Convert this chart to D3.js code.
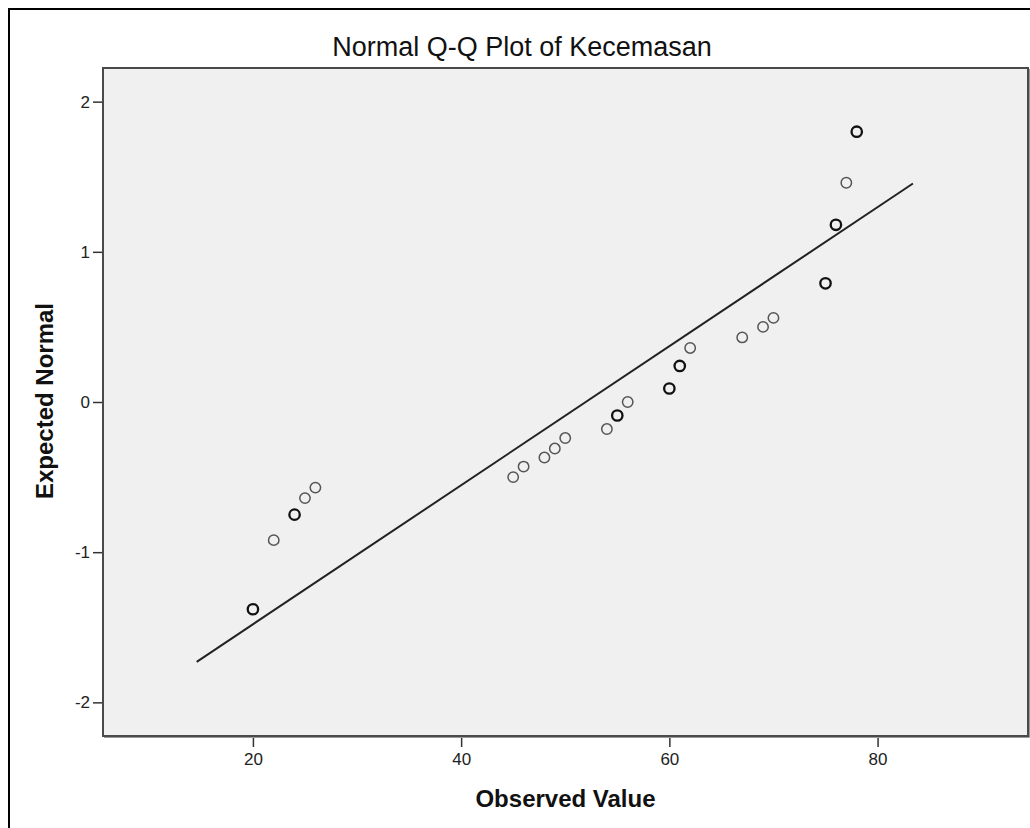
<!DOCTYPE html>
<html>
<head>
<meta charset="utf-8">
<style>
  body { margin: 0; background: #fff; }
  svg { display: block; font-family: Arial, "Liberation Sans", sans-serif; }
</style>
<title>Normal Q-Q Plot of Kecemasan</title>
</head>
<body>
<svg id="svgZone"></svg>
<script src="https://cdn.jsdelivr.net/npm/d3@7"></script>
<script>

// ============ Data ============
var observed = [20, 22, 24, 25, 26, 45, 46, 48, 49, 50, 54, 55, 56,
                60, 61, 62, 67, 69, 70, 75, 76, 77, 78];
var expected = [-1.38, -0.92, -0.75, -0.64, -0.57, -0.50, -0.43, -0.37, -0.31, -0.24, -0.18, -0.09, 0.00,
                0.09, 0.24, 0.36, 0.43, 0.50, 0.56, 0.79, 1.18, 1.46, 1.80];
// tied values show up as a heavier circle
var counts   = [2, 1, 2, 1, 1, 1, 1, 1, 1, 1, 1, 2, 1,
                2, 2, 1, 1, 1, 1, 2, 2, 1, 2];
// reference line end points (observed, expected)
var lineX = [14.6, 83.4];
var lineY = [-1.73, 1.455];

var xTicks = [20, 40, 60, 80];
var yTicks = [-2, -1, 0, 1, 2];

var TITLE = 'Normal Q-Q Plot of Kecemasan';
var X_LABEL = 'Observed Value';
var Y_LABEL = 'Expected Normal';

// ============ Layout ============
var W = 1030, H = 828;
var margin = {top: 68, right: 2, bottom: 92, left: 103},
    width = W - margin.left - margin.right,
    height = H - margin.top - margin.bottom;

var x = d3.scaleLinear().domain([5.6, 94.45]).range([0, width]);
var y = d3.scaleLinear().domain([-2.224, 2.224]).range([height, 0]);

// plain hyphen for negatives, like the original output
var tf = d => String(d);

var root = d3.select('#svgZone')
    .attr('width', W)
    .attr('height', H);

// outer frame (runs off the right and bottom of the picture)
root.append('rect')
    .attr('x', 9).attr('y', 9)
    .attr('width', W + 20).attr('height', H + 20)
    .attr('fill', '#fff')
    .attr('stroke', '#000')
    .attr('stroke-width', 2);

// title
root.append('text')
    .text(TITLE)
    .attr('x', 522).attr('y', 56)
    .attr('text-anchor', 'middle')
    .attr('font-size', '27px')
    .attr('fill', '#111');

var svg = root.append('g')
    .attr('transform', `translate(${margin.left}, ${margin.top})`);

// plot background
svg.append('rect')
    .attr('width', width).attr('height', height)
    .attr('fill', '#f0f0f0');

// axes
var xAxis = d3.axisBottom(x).tickValues(xTicks).tickSize(11).tickPadding(6).tickFormat(tf);
var gx = svg.append('g')
    .attr('transform', `translate(0, ${height})`)
    .call(xAxis);
var yAxis = d3.axisLeft(y).tickValues(yTicks).tickSize(10).tickPadding(3).tickFormat(tf);
var gy = svg.append('g').call(yAxis);

[gx, gy].forEach(function(g) {
    g.select('.domain').remove();
    g.selectAll('line').attr('stroke', '#333').attr('stroke-width', 1.5);
    g.selectAll('text')
        .attr('font-size', '17px')
        .attr('fill', '#222')
        .attr('font-family', 'Arial, "Liberation Sans", sans-serif');
});

// plot frame
svg.append('rect')
    .attr('width', width).attr('height', height)
    .attr('fill', 'none')
    .attr('stroke', '#4a4a4a')
    .attr('stroke-width', 2);
svg.append('path')
    .attr('d', `M${width + 1.5},1 V${height + 1.5} H1`)
    .attr('fill', 'none')
    .attr('stroke', '#999')
    .attr('stroke-width', 1);

// axis labels
svg.append('text')
    .text(X_LABEL)
    .attr('x', width / 2).attr('y', 807 - margin.top)
    .attr('text-anchor', 'middle')
    .attr('font-size', '24px')
    .attr('font-weight', 'bold')
    .attr('fill', '#111');
svg.append('text')
    .text(Y_LABEL)
    .attr('transform', `translate(${53 - margin.left}, ${401 - margin.top}) rotate(-90)`)
    .attr('text-anchor', 'middle')
    .attr('font-size', '24px')
    .attr('font-weight', 'bold')
    .attr('fill', '#111');

// reference line
svg.append('line')
    .attr('x1', x(lineX[0])).attr('y1', y(lineY[0]))
    .attr('x2', x(lineX[1])).attr('y2', y(lineY[1]))
    .attr('stroke', '#222')
    .attr('stroke-width', 2);

// points
var pts = observed.map(function(d, i) { return {obs: d, exp: expected[i], n: counts[i]}; });
svg.selectAll('circle.pt')
    .data(pts)
    .enter()
    .append('circle')
        .attr('class', 'pt')
        .attr('cx', d => x(d.obs))
        .attr('cy', d => y(d.exp))
        .attr('r', 5.2)
        .attr('fill', 'none')
        .attr('stroke', d => d.n > 1 ? '#111' : '#555')
        .attr('stroke-width', d => d.n > 1 ? 2.3 : 1.5);

</script>
</body>
</html>
